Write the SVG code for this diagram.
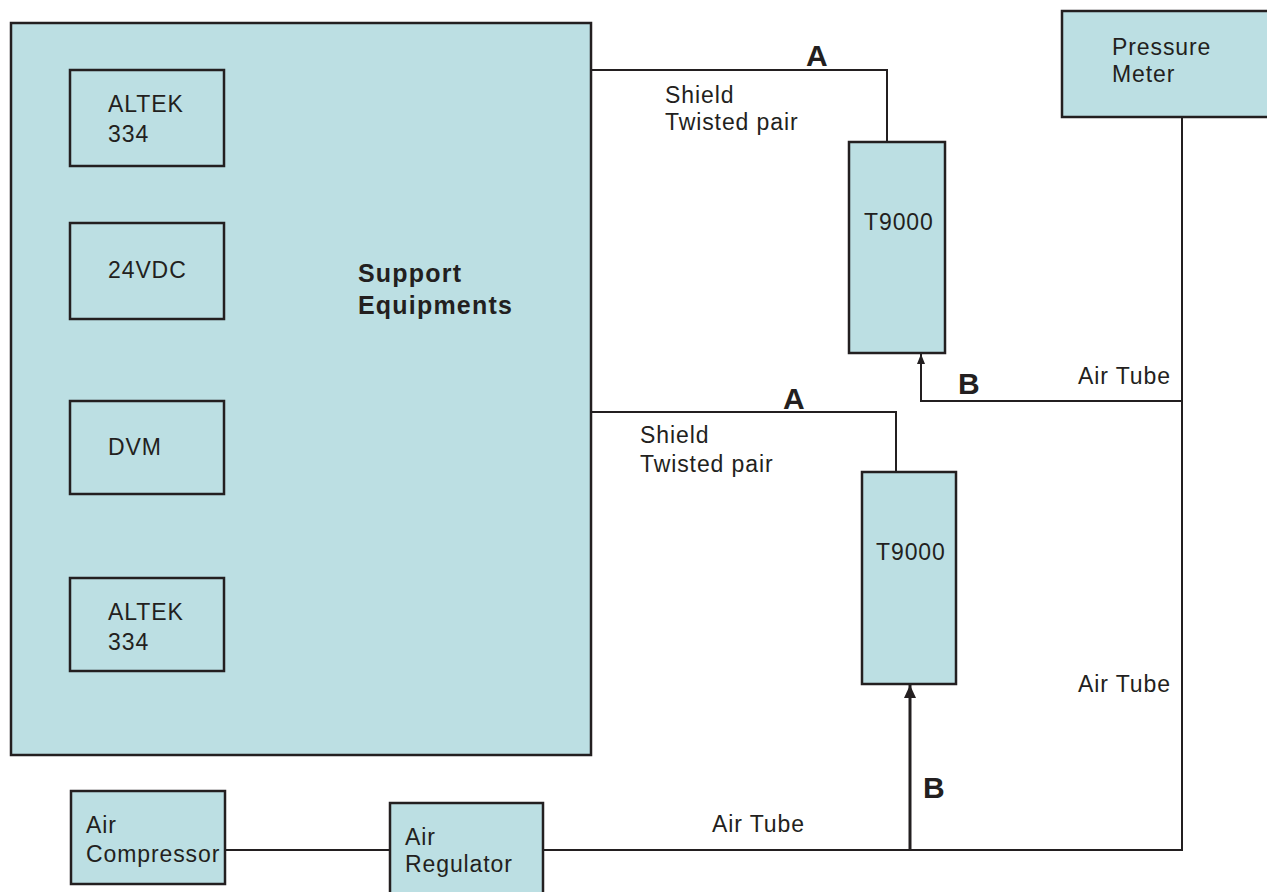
<svg xmlns="http://www.w3.org/2000/svg" width="1267" height="892" viewBox="0 0 1267 892">
<style>
.box{fill:#bcdfe3;stroke:#231f20;stroke-width:2.5}
.ln{fill:none;stroke:#231f20;stroke-width:2}
.t{font-family:"Liberation Sans",Arial,sans-serif;font-size:23px;fill:#231f20;letter-spacing:0.9px}
.b{font-family:"Liberation Sans",Arial,sans-serif;font-weight:bold;fill:#231f20}
</style>
<defs>
<marker id="ah" markerWidth="10" markerHeight="8" refX="10" refY="4" orient="auto" markerUnits="userSpaceOnUse" viewBox="0 0 10 8">
<path d="M0,0 L10,4 L0,8 Z" fill="#231f20"/>
</marker>
<marker id="ah2" markerWidth="13" markerHeight="12" refX="13" refY="6" orient="auto" markerUnits="userSpaceOnUse" viewBox="0 0 13 12">
<path d="M0,0 L13,6 L0,12 Z" fill="#231f20"/>
</marker>
</defs>
<g id="connectors">
<polyline class="ln" points="591,70 887,70 887,142"/>
<polyline class="ln" points="591,412 896,412 896,472"/>
<polyline class="ln" points="1182,117 1182,850 543,850"/>
<polyline class="ln" points="1182,401 921,401 921,354" marker-end="url(#ah)"/>
<line x1="910" y1="850" x2="910" y2="685" stroke="#231f20" stroke-width="3" marker-end="url(#ah2)"/>
<line class="ln" x1="225" y1="850" x2="390" y2="850"/>
<text class="b" x="806" y="66" font-size="30">A</text>
<text class="t" x="665" y="103">Shield</text>
<text class="t" x="665" y="130">Twisted pair</text>
<text class="b" x="783" y="409" font-size="30">A</text>
<text class="t" x="640" y="443">Shield</text>
<text class="t" x="640" y="472">Twisted pair</text>
<text class="b" x="958" y="394" font-size="30">B</text>
<text class="b" x="923" y="798" font-size="30">B</text>
<text class="t" x="1078" y="384">Air Tube</text>
<text class="t" x="1078" y="692">Air Tube</text>
<text class="t" x="712" y="832">Air Tube</text>
</g>
<g id="support">
<rect class="box" x="11" y="23" width="580" height="732"/>
<text class="b" x="358" y="282" font-size="25" letter-spacing="1.2">Support</text>
<text class="b" x="358" y="314" font-size="25" letter-spacing="1.2">Equipments</text>
</g>
<g id="altek1">
<rect class="box" x="70" y="70" width="154" height="96"/>
<text class="t" x="108" y="112">ALTEK</text>
<text class="t" x="108" y="142">334</text>
</g>
<g id="vdc">
<rect class="box" x="70" y="223" width="154" height="96"/>
<text class="t" x="108" y="278">24VDC</text>
</g>
<g id="dvm">
<rect class="box" x="70" y="401" width="154" height="93"/>
<text class="t" x="108" y="455">DVM</text>
</g>
<g id="altek2">
<rect class="box" x="70" y="578" width="154" height="93"/>
<text class="t" x="108" y="620">ALTEK</text>
<text class="t" x="108" y="650">334</text>
</g>
<g id="t9000a">
<rect class="box" x="849" y="142" width="96" height="211"/>
<text class="t" x="864" y="230">T9000</text>
</g>
<g id="t9000b">
<rect class="box" x="862" y="472" width="94" height="212"/>
<text class="t" x="876" y="560">T9000</text>
</g>
<g id="pressure">
<rect class="box" x="1062" y="11" width="210" height="106"/>
<text class="t" x="1112" y="55">Pressure</text>
<text class="t" x="1112" y="82">Meter</text>
</g>
<g id="compressor">
<rect class="box" x="71" y="791" width="154" height="93"/>
<text class="t" x="86" y="833">Air</text>
<text class="t" x="86" y="862">Compressor</text>
</g>
<g id="regulator">
<rect class="box" x="390" y="803" width="153" height="95"/>
<text class="t" x="405" y="845">Air</text>
<text class="t" x="405" y="872">Regulator</text>
</g>
</svg>
